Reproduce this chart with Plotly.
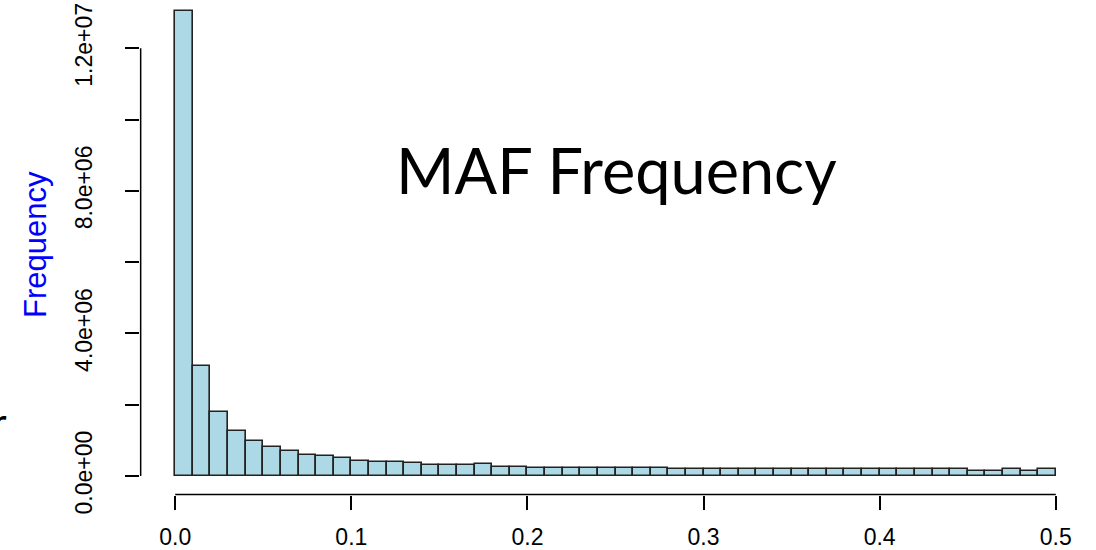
import plotly.graph_objects as go

# Histogram of minor allele frequency: 50 bins of width 0.01 on [0, 0.5]
bin_width = 0.01
bin_counts_millions = [
    13.06, 3.08, 1.81, 1.26, 0.98, 0.82, 0.70, 0.60, 0.55, 0.50,
    0.42, 0.38, 0.38, 0.36, 0.31, 0.31, 0.31, 0.33, 0.26, 0.26,
    0.22, 0.22, 0.22, 0.22, 0.22, 0.22, 0.22, 0.22, 0.20, 0.20,
    0.20, 0.20, 0.20, 0.20, 0.20, 0.20, 0.20, 0.20, 0.20, 0.20,
    0.20, 0.20, 0.20, 0.20, 0.20, 0.15, 0.15, 0.20, 0.15, 0.20,
]
bin_counts = [c * 1e6 for c in bin_counts_millions]
bin_left = [round(i * bin_width, 2) for i in range(len(bin_counts))]

x_tick_vals = [0.0, 0.1, 0.2, 0.3, 0.4, 0.5]
x_tick_text = ["0.0", "0.1", "0.2", "0.3", "0.4", "0.5"]
y_tick_vals = [0, 2e6, 4e6, 6e6, 8e6, 10e6, 12e6]
y_tick_text = ["0.0e+00", "", "4.0e+06", "", "8.0e+06", "", "1.2e+07"]

W, H = 1096, 550
ML, MR, MT, MB = 140, 5, 0, 55
PW, PH = W - ML - MR, H - MT - MB


def px_x(px):
    return (px - ML) / PW


def px_y(py):
    return (H - MB - py) / PH


tick_font = dict(family="Liberation Sans, Arial, sans-serif", size=23, color="black")

fig = go.Figure(
    go.Bar(
        x=bin_left,
        y=bin_counts,
        width=bin_width,
        offset=0,
        marker=dict(color="#ADD8E6", line=dict(color="#222222", width=1.6)),
        hoverinfo="skip",
    )
)

fig.update_layout(
    width=W,
    height=H,
    margin=dict(l=ML, r=MR, t=MT, b=MB, autoexpand=False),
    paper_bgcolor="white",
    plot_bgcolor="white",
    showlegend=False,
    bargap=0,
    xaxis=dict(
        range=[-0.02, 0.52],
        tickvals=x_tick_vals,
        ticktext=x_tick_text,
        ticks="outside",
        ticklen=14,
        tickwidth=1.5,
        tickcolor="black",
        showline=False,
        showgrid=False,
        zeroline=False,
        tickfont=tick_font,
        ticklabelstandoff=7,
    ),
    yaxis=dict(
        range=[-0.533e6, 13.356e6],
        tickvals=y_tick_vals,
        ticktext=y_tick_text,
        tickangle=-90,
        ticks="outside",
        ticklen=14,
        tickwidth=1.5,
        tickcolor="black",
        showline=False,
        showgrid=False,
        zeroline=False,
        tickfont=tick_font,
        ticklabelstandoff=24,
    ),
    shapes=[
        # axis lines span only the labelled tick range
        dict(type="line", xref="x", yref="paper", x0=0, x1=0.5, y0=0.001, y1=0.001,
             line=dict(color="black", width=1.5)),
        dict(type="line", xref="paper", yref="y", x0=0.0007, x1=0.0007, y0=0, y1=12e6,
             line=dict(color="black", width=1.5)),
    ],
    annotations=[
        dict(text="MAF Frequency", xref="paper", yref="paper",
             x=px_x(616), y=px_y(169), xanchor="center", yanchor="middle",
             showarrow=False,
             font=dict(family="Lato", size=63, color="black", weight=400)),
        dict(text="Frequency", xref="paper", yref="paper",
             x=px_x(36), y=px_y(245), xanchor="center", yanchor="middle",
             textangle=-90, showarrow=False,
             font=dict(family="Liberation Sans, Arial, sans-serif", size=31, color="#0000FF")),
        dict(text="r", xref="paper", yref="paper",
             x=px_x(9), y=px_y(422), xanchor="right", yanchor="middle",
             showarrow=False,
             font=dict(family="Lato", size=40, color="black")),
    ],
)

fig.write_html("out.html")
